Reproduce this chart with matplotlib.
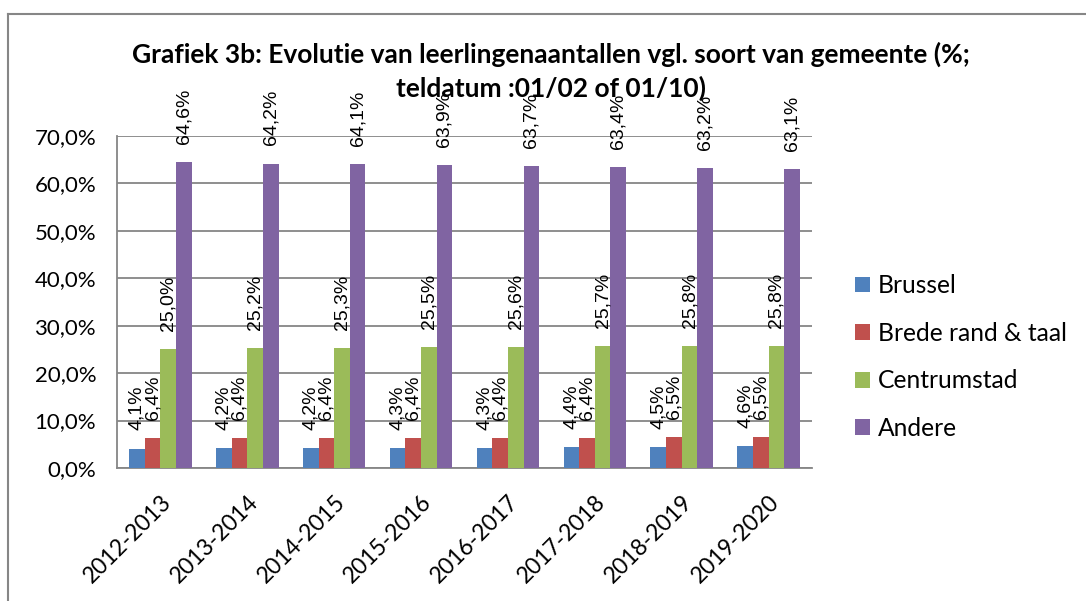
import matplotlib
matplotlib.use("Agg")
import matplotlib.pyplot as plt
import numpy as np
from matplotlib.lines import Line2D
from matplotlib.ticker import FuncFormatter

schooljaren = ["2012-2013", "2013-2014", "2014-2015", "2015-2016",
               "2016-2017", "2017-2018", "2018-2019", "2019-2020"]

reeksen = ["Brussel", "Brede rand & taal", "Centrumstad", "Andere"]

brussel = [4.1, 4.2, 4.2, 4.3, 4.3, 4.4, 4.5, 4.6]
brede_rand = [6.4, 6.4, 6.4, 6.4, 6.4, 6.4, 6.5, 6.5]
centrumstad = [25.0, 25.2, 25.3, 25.5, 25.6, 25.7, 25.8, 25.8]
andere = [64.6, 64.2, 64.1, 63.9, 63.7, 63.4, 63.2, 63.1]

kleuren = ["#4F81BD", "#C0504D", "#9BBB59", "#8064A2"]

plt.rcParams['font.family'] = ['Lato', 'DejaVu Sans']

fig = plt.figure(figsize=(10.86, 6.01), dpi=100)
ax = fig.add_axes([0.1077, 0.2213, 0.64, 0.5524])

x = np.arange(len(schooljaren))
breedte = 0.18
alle = [brussel, brede_rand, centrumstad, andere]

for i, (naam, waarden) in enumerate(zip(reeksen, alle)):
    pos = x + (i - 1.5) * breedte
    staven = ax.bar(pos, waarden, breedte, color=kleuren[i], label=naam, zorder=3)
    for s, w in zip(staven, waarden):
        ax.annotate(f"{w:.1f}%".replace(".", ","),
                    (s.get_x() + s.get_width() / 2, s.get_height()),
                    xytext=(0, 13), textcoords="offset points",
                    rotation=90, ha="center", va="bottom",
                    fontsize=14, family="Liberation Sans",
                    annotation_clip=False, zorder=4)

ax.set_xlim(-0.5, len(schooljaren) - 0.5)
ax.set_ylim(0, 70)
ax.set_yticks(np.arange(0, 71, 10))
ax.yaxis.set_major_formatter(FuncFormatter(lambda v, p: f"{v:.1f}%".replace(".", ",")))
ax.set_xticks(x)
ax.set_xticklabels(schooljaren, rotation=45, ha="right", rotation_mode="anchor")
ax.tick_params(axis="both", length=0, labelsize=16)
ax.tick_params(axis="y", pad=15)
ax.tick_params(axis="x", pad=17, labelsize=16.5)
ax.grid(axis="y", color="#868686", linewidth=1.3, zorder=0)
for kant in ["top", "right"]:
    ax.spines[kant].set_visible(False)
for kant in ["left", "bottom"]:
    ax.spines[kant].set_color("#868686")
    ax.spines[kant].set_linewidth(1.3)

fig.text(0.5074, 1 - 71.5 / 601,
         "Grafiek 3b: Evolutie van leerlingenaantallen vgl. soort van gemeente (%;\nteldatum :01/02 of 01/10)",
         ha="center", va="center", fontsize=19, fontweight="bold", linespacing=1.38)

fig.legend(loc="center left", bbox_to_anchor=(855 / 1086, 1 - 357 / 601),
           frameon=False, fontsize=17.7, handlelength=0.62, handleheight=0.62,
           handletextpad=0.3, labelspacing=1.0, borderpad=0, borderaxespad=0)

# rand van de grafiek (alleen boven en links zichtbaar)
fig.add_artist(Line2D([8 / 1086, 1], [1 - 14 / 601, 1 - 14 / 601],
                      transform=fig.transFigure, color="#868686", linewidth=1.5))
fig.add_artist(Line2D([8 / 1086, 8 / 1086], [0, 1 - 14 / 601],
                      transform=fig.transFigure, color="#868686", linewidth=1.5))

fig.savefig("out.png", dpi=100, facecolor="white")
